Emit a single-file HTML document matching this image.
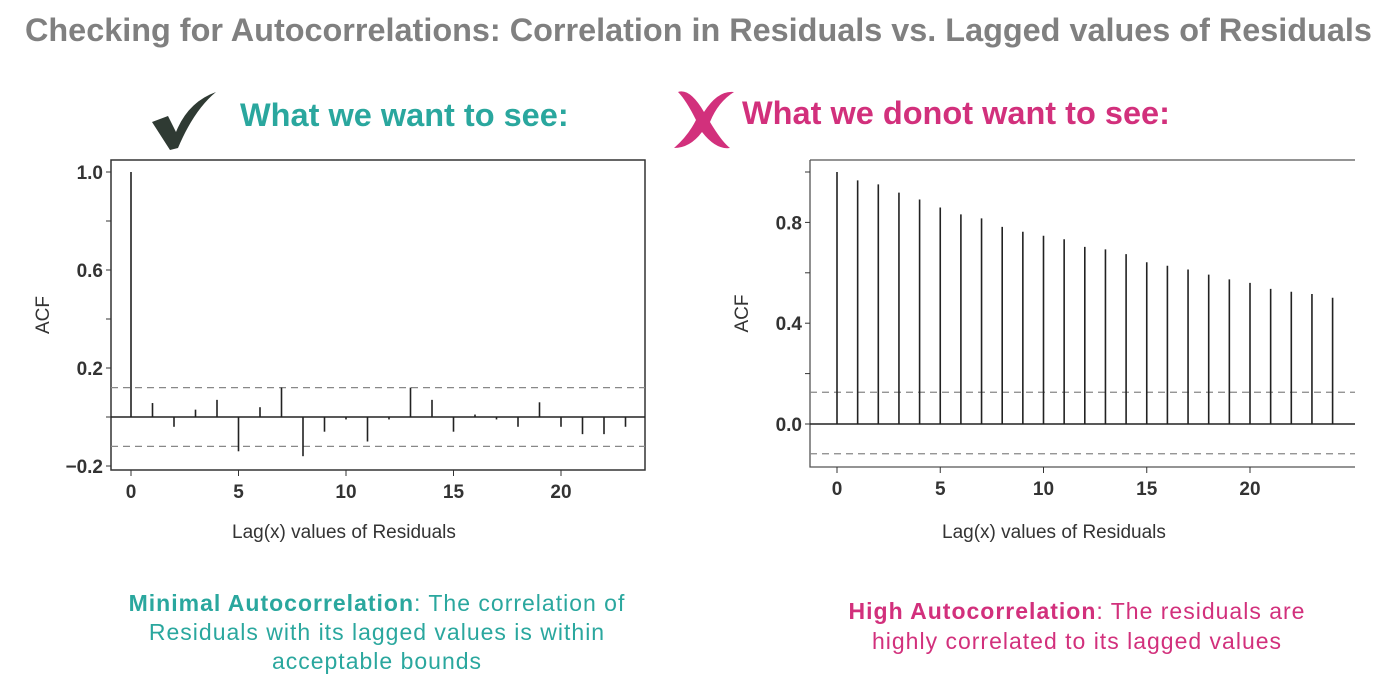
<!DOCTYPE html>
<html><head><meta charset="utf-8">
<style>
body{margin:0;width:1400px;height:695px;background:#fff;overflow:hidden;font-family:"Liberation Sans",sans-serif;position:relative}
.t{position:absolute;white-space:nowrap}
</style></head><body>
<div class="t" style="left:25px;top:12px;font-size:32.4px;font-weight:bold;color:#808080">Checking for Autocorrelations: Correlation in Residuals vs. Lagged values of Residuals</div>
<svg class="t" style="left:148px;top:88px" width="72" height="64"><path d="M4 34 L20 28 L28 44 Q40 14 68 4 Q46 22 30 60 L22 62 Z" fill="#2f3a33"/></svg>
<div class="t" style="left:240px;top:97px;font-size:32.5px;font-weight:bold;color:#2aa79e">What we want to see:</div>
<svg class="t" style="left:668px;top:86px" width="72" height="66"><path d="M10 6 Q22 2 36 26 Q50 4 66 6 Q50 16 42 36 Q54 56 62 62 Q48 64 34 46 Q22 62 6 62 Q20 50 28 34 Q18 14 10 6Z" fill="#d2307c"/></svg>
<div class="t" style="left:742px;top:95px;font-size:32.5px;font-weight:bold;color:#d2307c">What we donot want to see:</div>

<svg class="t" style="left:0;top:0" width="1400" height="695">
<g id="left"></g>
<g id="right"></g>
</svg>

<div class="t" style="left:232px;top:522px;font-size:19px;color:#333">Lag(x) values of Residuals</div>
<div class="t" style="left:942px;top:522px;font-size:19px;color:#333">Lag(x) values of Residuals</div>
<div class="t" style="left:77px;top:589px;width:600px;text-align:center;font-size:23px;letter-spacing:1px;line-height:29px;color:#2aa79e"><b>Minimal Autocorrelation</b>: The correlation of<br>Residuals with its lagged values is within<br>acceptable bounds</div>
<div class="t" style="left:777px;top:596px;width:600px;text-align:center;font-size:23px;letter-spacing:1px;line-height:30px;color:#d2307c"><b>High Autocorrelation</b>: The residuals are<br>highly correlated to its lagged values</div>

<script>
const leftLags=[0,1,2,3,4,5,6,7,8,9,10,11,12,13,14,15,16,17,18,19,20,21,22,23];
const leftAcf=[1.0,0.057,-0.04,0.03,0.07,-0.14,0.04,0.12,-0.16,-0.06,-0.01,-0.10,-0.01,0.12,0.07,-0.06,0.01,-0.01,-0.04,0.06,-0.04,-0.07,-0.07,-0.04];
const leftBound=[0.12,-0.12];
const leftYTicks=[1.0,0.6,0.2,-0.2];
const leftYLabels=["1.0","0.6","0.2","\u22120.2"];
const leftYMinor=[0.8,0.4,0.0];
const leftXTicks=[0,5,10,15,20];
const rightLags=[0,1,2,3,4,5,6,7,8,9,10,11,12,13,14,15,16,17,18,19,20,21,22,23,24];
const rightAcf=[1.0,0.967,0.951,0.918,0.891,0.859,0.832,0.816,0.782,0.763,0.747,0.733,0.703,0.693,0.674,0.642,0.628,0.613,0.593,0.574,0.560,0.536,0.525,0.516,0.501];
const rightBound=[0.126,-0.118];
const rightYTicks=[0.0,0.4,0.8];
const rightYLabels=["0.0","0.4","0.8"];
const rightYMinor=[0.2,0.6,1.0];
const rightXTicks=[0,5,10,15,20];
const NS="http://www.w3.org/2000/svg";
function mk(g,t,a){const e=document.createElementNS(NS,t);for(const k in a)e.setAttribute(k,a[k]);g.appendChild(e);return e;}
function draw(id,cfg,lags,acf,bound,yt,yl,ym,xt){
  const g=document.getElementById(id);
  const X=v=>cfg.x0+v*cfg.dx, Y=v=>cfg.y0-v*cfg.dy;
  let e;
  if(cfg.box){e=mk(g,'rect',{x:cfg.L,y:cfg.T,width:cfg.R-cfg.L,height:cfg.B-cfg.T,fill:'none',stroke:'#333','stroke-width':1.5});
  }
  else{e=mk(g,'path',{d:`M${cfg.L} ${cfg.T}H${cfg.R}M${cfg.L} ${cfg.T}V${cfg.B}H${cfg.R}`,fill:'none',stroke:'#555','stroke-width':1.3});
  }
  e=mk(g,'line',{x1:cfg.L,x2:cfg.R,y1:Y(0),y2:Y(0),stroke:'#222','stroke-width':1.5});
  
  bound.forEach(b=>{e=mk(g,'line',{x1:cfg.L,x2:cfg.R,y1:Y(b),y2:Y(b),stroke:'#888','stroke-width':1.3,'stroke-dasharray':'7 5'});
    });
  lags.forEach((l,i)=>{e=mk(g,'line',{x1:X(l),x2:X(l),y1:Y(0),y2:Y(acf[i]),stroke:'#222','stroke-width':1.6});
    });
  yt.forEach((v,i)=>{e=mk(g,'line',{x1:cfg.L-5,x2:cfg.L,y1:Y(v),y2:Y(v),stroke:'#333'});
    
    e=mk(g,'text',{x:cfg.L-8,y:Y(v)+7,'text-anchor':'end','font-size':19,'font-weight':'bold',fill:'#333','font-family':'Liberation Sans, sans-serif'});
    e.textContent=yl[i];});
  ym.forEach(v=>{e=mk(g,'line',{x1:cfg.L-5,x2:cfg.L,y1:Y(v),y2:Y(v),stroke:'#333'});
    });
  xt.forEach(v=>{e=mk(g,'line',{x1:X(v),x2:X(v),y1:cfg.B,y2:cfg.B+6,stroke:'#333'});
    
    e=mk(g,'text',{x:X(v),y:cfg.B+28,'text-anchor':'middle','font-size':19,'font-weight':'bold',fill:'#333','font-family':'Liberation Sans, sans-serif'});
    e.textContent=v;});
  e=mk(g,'text',{x:0,y:0,transform:`translate(${cfg.L-62},${(cfg.T+cfg.B)/2}) rotate(-90)`,'text-anchor':'middle','font-size':19,fill:'#333','font-family':'Liberation Sans, sans-serif'});
  e.textContent='ACF';
}
draw('left',{L:111,R:645,T:160,B:470,x0:131,dx:21.5,y0:417,dy:245,box:true},leftLags,leftAcf,leftBound,leftYTicks,leftYLabels,leftYMinor,leftXTicks);
draw('right',{L:810,R:1355,T:160,B:467,x0:837,dx:20.65,y0:424,dy:252,box:false},rightLags,rightAcf,rightBound,rightYTicks,rightYLabels,rightYMinor,rightXTicks);
</script>
</body></html>
